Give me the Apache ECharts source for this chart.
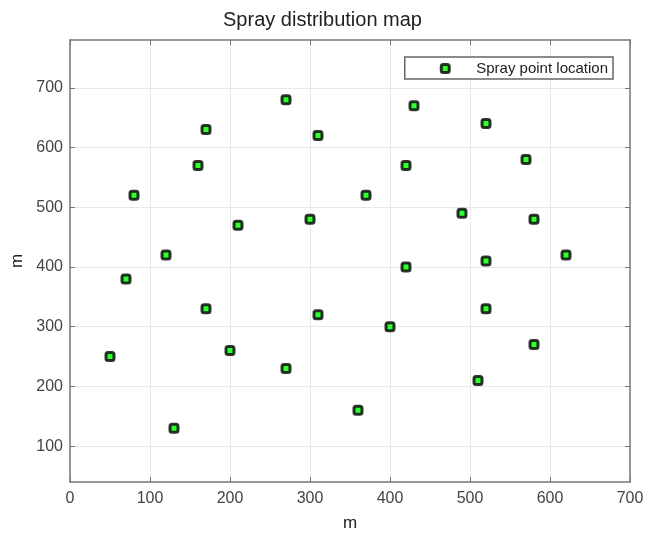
<!DOCTYPE html>
<html>
<head>
<meta charset="utf-8">
<script src="https://cdn.jsdelivr.net/npm/echarts@6/dist/echarts.min.js"></script>
<style>
  html, body { margin: 0; padding: 0; background: #fff; }
  #chart { width: 645px; height: 533px; }
</style>
</head>
<body>
<div id="chart"></div>
<script>
// spray points (m)
var xData = [50, 70, 80, 120, 130, 160, 170, 170, 200, 210, 270, 270, 300, 310, 310,
             360, 370, 400, 420, 420, 430, 490, 510, 520, 520, 520, 570, 580, 580, 620]
var yData = [250, 380, 520, 420, 130, 570, 630, 330, 260, 470, 680, 230, 480, 620, 320,
             160, 520, 300, 570, 400, 670, 490, 210, 640, 410, 330, 580, 480, 270, 420]
var xTicks = [0, 100, 200, 300, 400, 500, 600, 700]
var yTicks = [100, 200, 300, 400, 500, 600, 700]

var points = xData.map(function(x, i) { return [x, yData[i]] })

var font = 'Liberation Sans, Arial, sans-serif'
var chart = echarts.init(document.getElementById('chart'))

var lineStyle = { color: '#777', width: 1.5 }
var tickStyle = { color: '#777', width: 1 }
var gridLine = { show: true, lineStyle: { color: '#e8e8e8', width: 1 } }
var blank = function() { return '' }

chart.setOption({
  animation: false,
  title: {
    text: 'Spray distribution map',
    left: 'center',
    top: 5,
    textStyle: { fontFamily: font, fontSize: 20, fontWeight: 'normal', color: '#222' }
  },
  legend: {
    data: ['Spray point location'],
    right: 32,
    top: 57,
    padding: [4, 5, 3, 35],
    borderColor: '#666',
    borderWidth: 1.5,
    borderRadius: 0,
    backgroundColor: '#fff',
    itemWidth: 8,
    itemHeight: 8,
    itemStyle: { color: '#00ff00', borderColor: '#000', borderWidth: 3 },
    textStyle: { fontFamily: font, fontSize: 15, color: '#222', padding: [0, 0, 0, 22] }
  },
  grid: { left: 70, right: 15, top: 40, bottom: 51, outerBoundsMode: 'none' },
  xAxis: [{
    type: 'value',
    min: 0, max: 700, interval: 100,
    name: 'm', nameLocation: 'middle', nameGap: 33,
    nameTextStyle: { fontFamily: font, fontSize: 17, color: '#222' },
    axisLine: { show: true, onZero: false, lineStyle: lineStyle },
    axisTick: { show: true, inside: true, length: 5, lineStyle: tickStyle, customValues: xTicks },
    axisLabel: { fontFamily: font, fontSize: 16, color: '#444', margin: 9, customValues: xTicks },
    splitLine: gridLine
  }, {
    type: 'value', position: 'top',
    min: 0, max: 700, interval: 100,
    axisLine: { show: true, onZero: false, lineStyle: lineStyle },
    axisTick: { show: true, inside: true, length: 5, lineStyle: tickStyle, customValues: xTicks },
    axisLabel: { show: true, formatter: blank, customValues: xTicks },
    splitLine: { show: false }
  }],
  yAxis: [{
    type: 'value',
    min: 40, max: 780,
    name: 'm', nameLocation: 'middle', nameGap: 40,
    nameTextStyle: { fontFamily: font, fontSize: 17, color: '#222' },
    axisLine: { show: true, onZero: false, lineStyle: lineStyle },
    axisTick: { show: true, inside: true, length: 5, lineStyle: tickStyle, customValues: yTicks },
    axisLabel: { fontFamily: font, fontSize: 16, color: '#444', margin: 7, customValues: yTicks },
    splitLine: gridLine
  }, {
    type: 'value', position: 'right',
    min: 40, max: 780,
    axisLine: { show: true, onZero: false, lineStyle: lineStyle },
    axisTick: { show: true, inside: true, length: 5, lineStyle: tickStyle, customValues: yTicks },
    axisLabel: { show: true, formatter: blank, customValues: yTicks },
    splitLine: { show: false }
  }],
  series: [{
    name: 'Spray point location',
    type: 'scatter',
    symbol: 'roundRect',
    symbolSize: 8,
    itemStyle: { color: '#00ff00', borderColor: '#000', borderWidth: 3 },
    data: points
  }]
})
</script>
</body>
</html>
